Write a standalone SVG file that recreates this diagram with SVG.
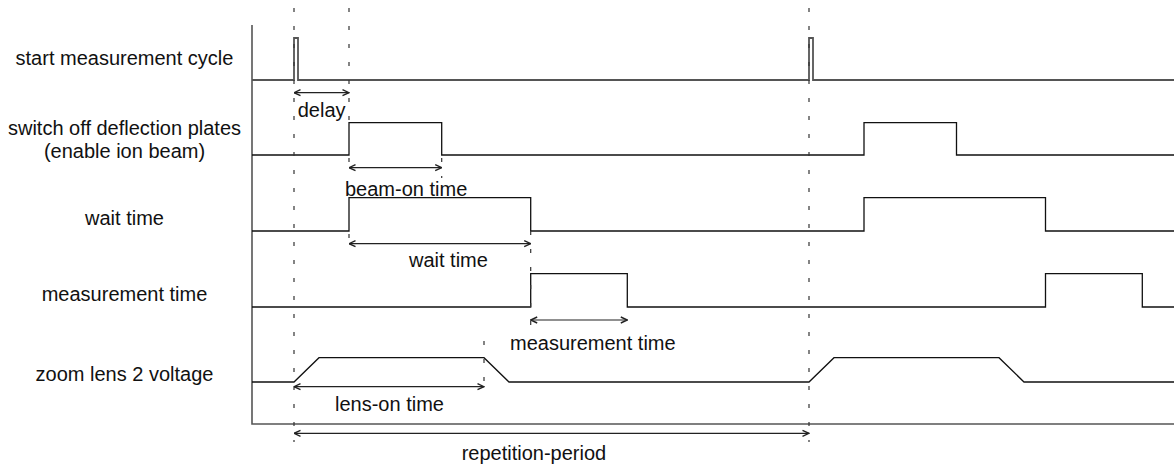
<svg xmlns="http://www.w3.org/2000/svg" width="1174" height="466" viewBox="0 0 1174 466">
<style>
text{font-family:"Liberation Sans",Arial,sans-serif;font-size:20px;fill:#111}
.lbl{text-anchor:middle}
.sig{fill:none;stroke:#111;stroke-width:1.3}
.sig1{fill:none;stroke:#555;stroke-width:1.8}
.axis{fill:none;stroke:#555;stroke-width:1.6}
.dash{fill:none;stroke:#333;stroke-width:1.2;stroke-dasharray:4 14}
.arr{fill:none;stroke:#222;stroke-width:1.2;marker-start:url(#ah);marker-end:url(#ah)}
</style>
<defs>
<marker id="ah" viewBox="0 0 8 8" refX="7.5" refY="4" markerWidth="8" markerHeight="8" markerUnits="userSpaceOnUse" orient="auto-start-reverse">
<path d="M1,1 L7.5,4 L1,7" fill="none" stroke="#222" stroke-width="1.4"/>
</marker>
</defs>
<rect width="1174" height="466" fill="#fff"/>
<g id="labels">
<text class="lbl" x="124.5" y="65">start measurement cycle</text>
<text class="lbl" x="124.5" y="135">switch off deflection plates</text>
<text class="lbl" x="124.5" y="158">(enable ion beam)</text>
<text class="lbl" x="124.5" y="225">wait time</text>
<text class="lbl" x="124.5" y="301">measurement time</text>
<text class="lbl" x="124.5" y="381">zoom lens 2 voltage</text>
</g>
<g id="axes">
<path class="axis" d="M252,25 V424 H1174"/>
</g>
<g id="signal-start">
<path class="sig1" d="M252,80 H294 V38 H298 V80 H809 V38 H813 V80 H1174"/>
</g>
<g id="signal-deflection">
<path class="sig" d="M252,155 H349 V122.7 H441.7 V155 H864 V122.7 H956.5 V155 H1174"/>
</g>
<g id="signal-wait">
<path class="sig" d="M252,231 H349 V197.7 H530.7 V231 H864 V197.7 H1045.5 V231 H1174"/>
</g>
<g id="signal-measurement">
<path class="sig" d="M252,307 H530.7 V273.7 H627.3 V307 H1045.5 V273.7 H1142.3 V307 H1174"/>
</g>
<g id="signal-zoom">
<path class="sig" d="M252,382 H294 L319,357.7 H484 L509,382 H809 L834,357.7 H999 L1024,382 H1174"/>
</g>
<g id="connectors">
<path class="dash" d="M294,8 V442"/>
<path class="dash" d="M809,8 V442"/>
<path class="dash" d="M349,8 V122"/>
<path class="dash" d="M349,158 V176"/>
<path class="dash" d="M349,234 V250"/>
<path class="dash" d="M441.7,158 V178"/>
<path class="dash" d="M530.7,231 V334"/>
<path class="dash" d="M484,341 V390"/>
<path class="arr" d="M294,92.7 H349"/>
<path class="arr" d="M349,167.7 H441.7"/>
<path class="arr" d="M349,243.7 H530.7"/>
<path class="arr" d="M530.7,320 H627.3"/>
<path class="arr" d="M294,386.7 H484"/>
<path class="arr" d="M294,433.3 H809"/>
</g>
<g id="interval-labels">
<text x="297.7" y="117">delay</text>
<text x="345" y="196">beam-on time</text>
<text x="409" y="267">wait time</text>
<text x="510" y="350">measurement time</text>
<text x="335" y="410.7">lens-on time</text>
<text x="461.7" y="460">repetition-period</text>
</g>
</svg>
